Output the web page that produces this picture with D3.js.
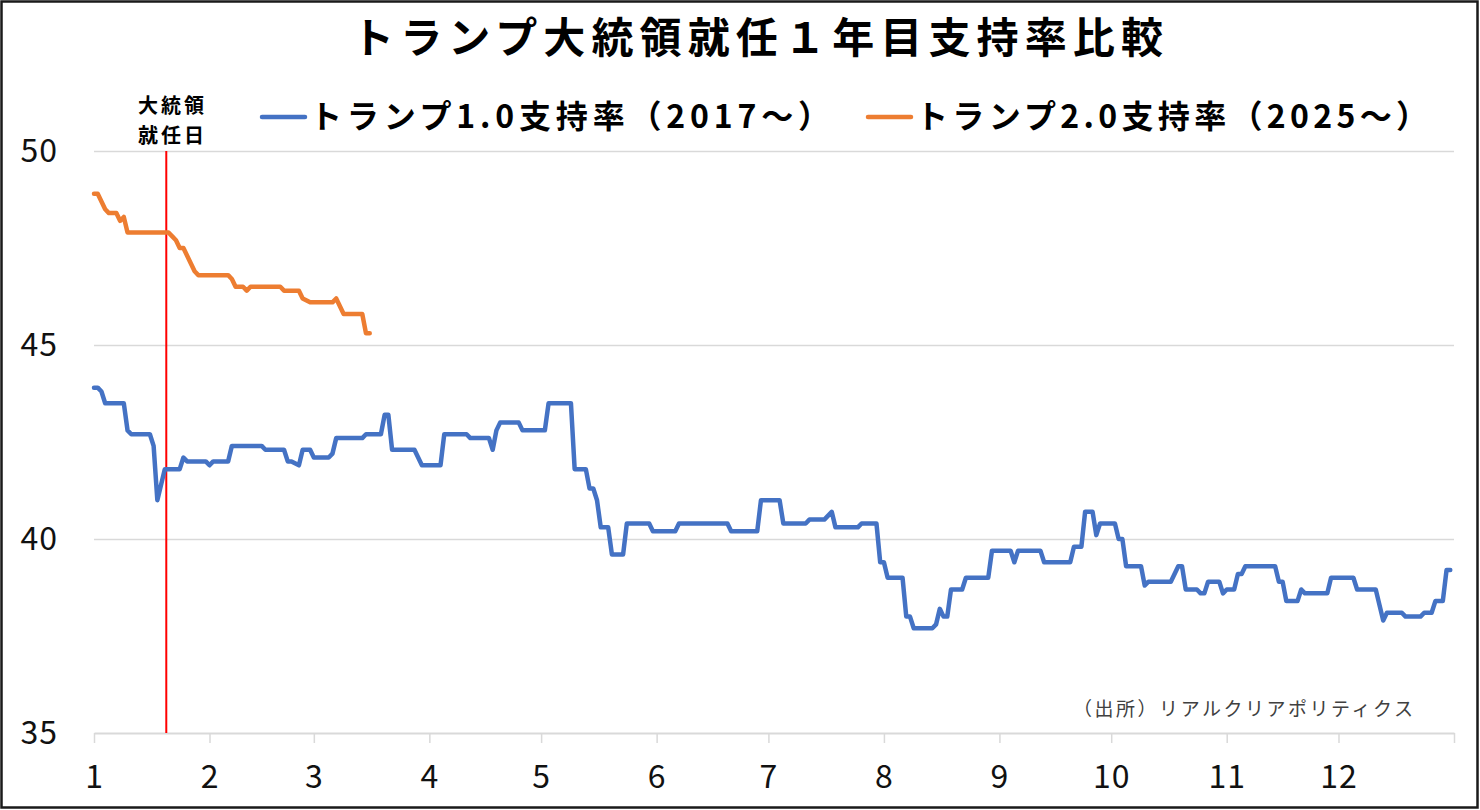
<!DOCTYPE html>
<html>
<head>
<meta charset="utf-8">
<script src="https://cdn.jsdelivr.net/npm/d3@7"></script>
<style>
  body { margin: 0; background: #fff; }
  svg text { font-family: "Noto Sans CJK JP", "Noto Sans", sans-serif; }
</style>
</head>
<body>
<svg id="chart"></svg>
<script>
// month boundaries as day-of-year, ticks are labelled with the month number
const monthTicks = [0, 31, 59, 90, 120, 151, 181, 212, 243, 273, 304, 334, 365];
const monthLabels = ['1', '2', '3', '4', '5', '6', '7', '8', '9', '10', '11', '12'];
const yTicks = [35, 40, 45, 50];
const yGrid = [40, 45, 50];

const seriesNames = ['トランプ1.0支持率（2017～）', 'トランプ2.0支持率（2025～）'];
const seriesColors = ['#4472C4', '#ED7D31'];

// day of year the inauguration falls on (Jan 20)
const inaugurationDay = 19.4;

// Trump 1.0 (2017) - breakpoints of the RCP average
const trump1Days = [
  0, 1, 2, 3, 8, 9, 10, 15, 16, 17,
  19, 23, 24, 25, 30, 31, 32, 36, 37, 45,
  46, 51, 52, 53, 55, 56, 58, 59, 63, 64,
  65, 72, 73, 77, 78, 79, 80, 86, 88, 93,
  94, 100, 101, 106, 107, 108, 109, 114, 115, 121,
  122, 128, 129, 132, 133, 134, 135, 136, 138, 139,
  142, 143, 149, 150, 156, 157, 170, 171, 178, 179,
  184, 185, 191, 192, 196, 198, 199, 205, 206, 210,
  211, 212, 213, 217, 218, 219, 220, 225, 226, 227,
  228, 229, 230, 233, 234, 240, 241, 246, 247, 248,
  254, 255, 262, 263, 265, 266, 268, 269, 270, 274,
  275, 276, 277, 281, 282, 283, 289, 291, 292, 293,
  296, 297, 298, 299, 302, 303, 304, 306, 307, 308,
  309, 317, 318, 319, 320, 323, 324, 325, 331, 332,
  338, 339, 344, 346, 347, 351, 352, 356, 357, 359,
  360, 362, 363, 364
];
const trump1Approval = [
  43.9, 43.9, 43.8, 43.5, 43.5, 42.8, 42.7, 42.7, 42.4, 41.0,
  41.8, 41.8, 42.1, 42.0, 42.0, 41.9, 42.0, 42.0, 42.4, 42.4,
  42.3, 42.3, 42.0, 42.0, 41.9, 42.3, 42.3, 42.1, 42.1, 42.2,
  42.6, 42.6, 42.7, 42.7, 43.2, 43.2, 42.3, 42.3, 41.9, 41.9,
  42.7, 42.7, 42.6, 42.6, 42.3, 42.8, 43.0, 43.0, 42.8, 42.8,
  43.5, 43.5, 41.8, 41.8, 41.3, 41.3, 41.0, 40.3, 40.3, 39.6,
  39.6, 40.4, 40.4, 40.2, 40.2, 40.4, 40.4, 40.2, 40.2, 41.0,
  41.0, 40.4, 40.4, 40.5, 40.5, 40.7, 40.3, 40.3, 40.4, 40.4,
  39.4, 39.4, 39.0, 39.0, 38.0, 38.0, 37.7, 37.7, 37.8, 38.2,
  38.0, 38.0, 38.7, 38.7, 39.0, 39.0, 39.7, 39.7, 39.4, 39.7,
  39.7, 39.4, 39.4, 39.8, 39.8, 40.7, 40.7, 40.1, 40.4, 40.4,
  40.0, 40.0, 39.3, 39.3, 38.8, 38.9, 38.9, 39.3, 39.3, 38.7,
  38.7, 38.6, 38.6, 38.9, 38.9, 38.6, 38.7, 38.7, 39.1, 39.1,
  39.3, 39.3, 38.9, 38.9, 38.4, 38.4, 38.7, 38.6, 38.6, 39.0,
  39.0, 38.7, 38.7, 37.9, 38.1, 38.1, 38.0, 38.0, 38.1, 38.1,
  38.4, 38.4, 39.2, 39.2
];

// Trump 2.0 (2025)
const trump2Days = [
  0, 1, 2, 3, 4, 6, 7, 8, 9, 20,
  21, 22, 23, 24, 25, 26, 27, 28, 36, 37,
  38, 40, 41, 42, 50, 51, 55, 56, 58, 64,
  65, 67, 72, 73, 74
];
const trump2Approval = [
  48.9, 48.9, 48.7, 48.5, 48.4, 48.4, 48.2, 48.3, 47.9, 47.9,
  47.8, 47.7, 47.5, 47.5, 47.3, 47.1, 46.9, 46.8, 46.8, 46.7,
  46.5, 46.5, 46.4, 46.5, 46.5, 46.4, 46.4, 46.2, 46.1, 46.1,
  46.2, 45.8, 45.8, 45.3, 45.3
];

class LineChart {

  constructor(_config, _data) {
    this.config = {
      parentElement: _config.parentElement,
      containerWidth: _config.containerWidth || 1480,
      containerHeight: _config.containerHeight || 810,
      margin: _config.margin || {top: 151, right: 26, bottom: 77, left: 94}
    }
    this.data = _data;
    this.initVis();
  }

  initVis() {
    let vis = this;

    vis.width = vis.config.containerWidth - vis.config.margin.left - vis.config.margin.right;
    vis.height = vis.config.containerHeight - vis.config.margin.top - vis.config.margin.bottom;

    vis.xScale = d3.scaleLinear()
      .domain([0, 365])
      .range([0, vis.width]);

    vis.yScale = d3.scaleLinear()
      .domain([35, 50])
      .range([vis.height, 0]);

    vis.svg = d3.select(vis.config.parentElement)
      .attr('width', vis.config.containerWidth)
      .attr('height', vis.config.containerHeight);

    // white background + dark frame round the whole picture
    vis.svg.append('rect')
      .attr('x', 1.5)
      .attr('y', 1.5)
      .attr('width', vis.config.containerWidth - 4)
      .attr('height', vis.config.containerHeight - 4)
      .attr('fill', '#fff')
      .attr('stroke', '#1a1a1a')
      .attr('stroke-width', 2.5);

    vis.chart = vis.svg.append('g')
      .attr('transform', `translate(${vis.config.margin.left},${vis.config.margin.top})`);

    // horizontal gridlines
    vis.chart.append('g')
      .attr('class', 'grid')
      .call(d3.axisLeft(vis.yScale).tickValues(yGrid).tickSize(-vis.width).tickFormat(''))
      .call(g => g.select('.domain').remove())
      .call(g => g.selectAll('line').attr('stroke', '#d9d9d9').attr('stroke-width', 1.5));

    // y tick labels
    vis.chart.append('g')
      .attr('class', 'axis y-axis')
      .call(d3.axisLeft(vis.yScale).tickValues(yTicks).tickSize(0).tickPadding(36))
      .call(g => g.select('.domain').remove())
      .call(g => g.selectAll('text')
        .attr('font-size', '32px')
        .attr('letter-spacing', '1px')
        .attr('fill', '#111')
        .style('font-family', '"Noto Sans CJK JP", sans-serif'));

    // x axis: month boundaries
    vis.chart.append('g')
      .attr('class', 'axis x-axis')
      .attr('transform', `translate(0,${vis.height})`)
      .call(d3.axisBottom(vis.xScale)
        .tickValues(monthTicks)
        .tickSize(10)
        .tickSizeOuter(0)
        .tickPadding(22)
        .tickFormat((d, i) => monthLabels[i] || ''))
      .call(g => g.select('.domain').attr('stroke', '#d9d9d9').attr('stroke-width', 2))
      .call(g => g.selectAll('.tick line').attr('stroke', '#d9d9d9').attr('stroke-width', 1.5))
      .call(g => g.selectAll('text')
        .attr('font-size', '32px')
        .attr('letter-spacing', '1px')
        .attr('fill', '#111')
        .style('font-family', '"Noto Sans CJK JP", sans-serif'));

    // inauguration day marker
    vis.chart.append('line')
      .attr('x1', vis.xScale(inaugurationDay))
      .attr('x2', vis.xScale(inaugurationDay))
      .attr('y1', 0)
      .attr('y2', vis.height)
      .attr('stroke', '#ff0000')
      .attr('stroke-width', 2);

    vis.svg.append('text')
      .attr('x', 138)
      .attr('y', 113)
      .attr('font-size', '20px')
      .attr('font-weight', 'bold')
      .attr('textLength', 66)
      .attr('lengthAdjust', 'spacing')
      .text('大統領');

    vis.svg.append('text')
      .attr('x', 138)
      .attr('y', 143)
      .attr('font-size', '20px')
      .attr('font-weight', 'bold')
      .attr('textLength', 66)
      .attr('lengthAdjust', 'spacing')
      .text('就任日');

    // title
    vis.svg.append('text')
      .attr('x', 352)
      .attr('y', 53)
      .attr('font-size', '42px')
      .attr('font-weight', 'bold')
      .attr('textLength', 811)
      .attr('lengthAdjust', 'spacing')
      .text('トランプ大統領就任１年目支持率比較');

    // legend
    vis.legendX = [262, 868];
    vis.legendW = [520, 512];
    vis.legend = vis.svg.selectAll('.legend-item')
      .data(seriesNames)
      .join('g')
        .attr('class', 'legend-item')
        .attr('transform', (d, i) => `translate(${vis.legendX[i]},117)`);

    vis.legend.append('line')
      .attr('x1', 0)
      .attr('x2', 43)
      .attr('stroke', (d, i) => seriesColors[i])
      .attr('stroke-width', 4.5)
      .attr('stroke-linecap', 'round');

    vis.legend.append('text')
      .attr('x', 48)
      .attr('y', 11)
      .attr('font-size', '32px')
      .attr('font-weight', 'bold')
      .attr('textLength', (d, i) => vis.legendW[i])
      .attr('lengthAdjust', 'spacing')
      .text(d => d);

    // source note
    vis.svg.append('text')
      .attr('x', 1073)
      .attr('y', 716)
      .attr('font-size', '19px')
      .attr('fill', '#404040')
      .attr('textLength', 340)
      .attr('lengthAdjust', 'spacing')
      .text('（出所）リアルクリアポリティクス');

    vis.updateVis();
  }

  updateVis() {
    let vis = this;

    vis.line = d3.line()
      .x(d => vis.xScale(d[0]))
      .y(d => vis.yScale(d[1]));

    vis.chart.selectAll('.series')
      .data(vis.data)
      .join('path')
        .attr('class', 'series')
        .attr('d', d => vis.line(d))
        .attr('fill', 'none')
        .attr('stroke', (d, i) => seriesColors[i])
        .attr('stroke-width', 4.5)
        .attr('stroke-linejoin', 'round')
        .attr('stroke-linecap', 'round');
  }
}

let chart = new LineChart({parentElement: '#chart'}, [
  d3.zip(trump1Days, trump1Approval),
  d3.zip(trump2Days, trump2Approval)
]);
</script>
</body>
</html>
